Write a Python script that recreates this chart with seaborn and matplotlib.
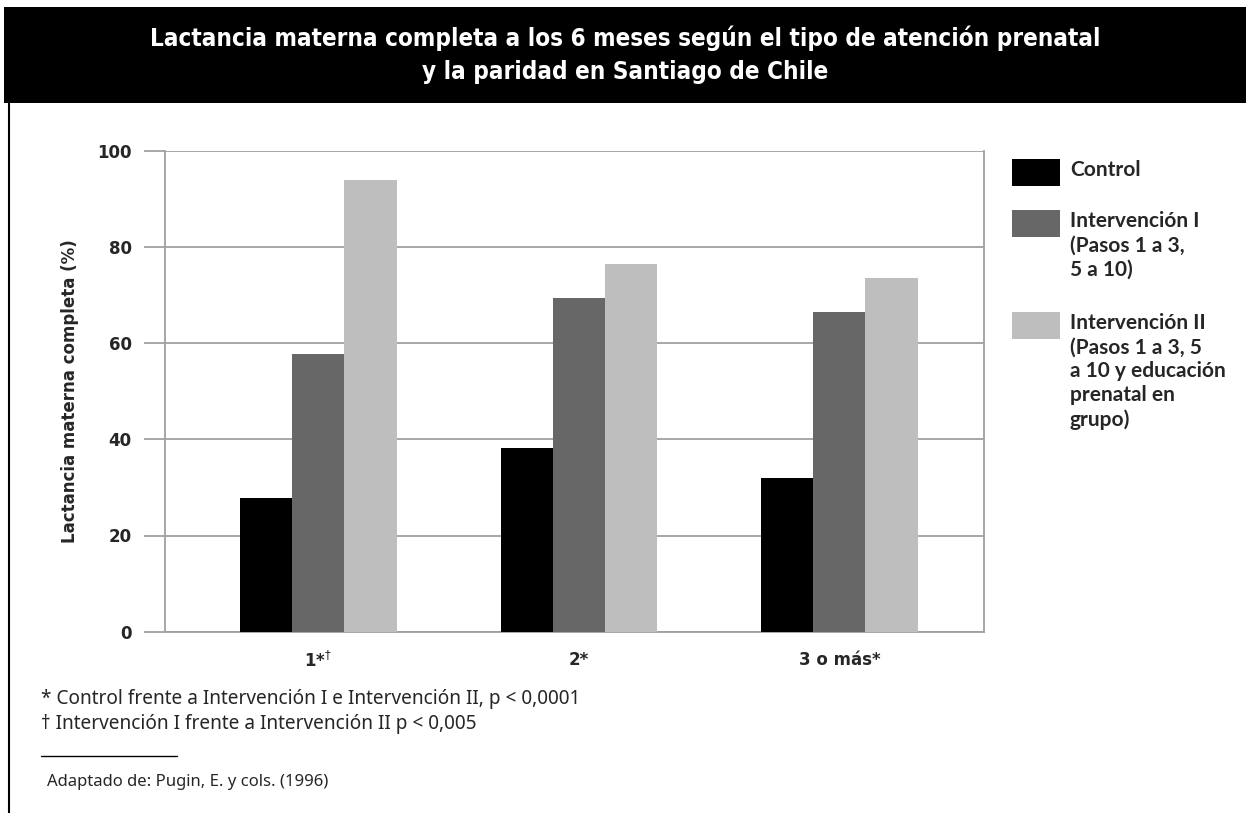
import matplotlib
matplotlib.use("Agg")
import matplotlib.pyplot as plt
from matplotlib.patches import Rectangle
from matplotlib.lines import Line2D
import seaborn as sns
import pandas as pd

# Data: full breastfeeding at 6 months (%) by parity and type of prenatal care
paridad = ["1", "2", "3 o más"]
etiquetas_x = ["1*$^{\\dagger}$", "2*", "3 o más*"]
grupos = ["Control",
          "Intervención I\n(Pasos 1 a 3,\n5 a 10)",
          "Intervención II\n(Pasos 1 a 3, 5\na 10 y educación\nprenatal en\ngrupo)"]
control = [27.9, 38.1, 32.0]
intervencion_1 = [57.7, 69.4, 66.5]
intervencion_2 = [93.9, 76.4, 73.5]
colores = ["#000000", "#676767", "#BEBEBE"]
yticks = [0, 20, 40, 60, 80, 100]

titulo = ("Lactancia materna completa a los 6 meses según el tipo de atención prenatal\n"
          "y la paridad en Santiago de Chile")
nota_1 = "* Control frente a Intervención I e Intervención II, p < 0,0001"
nota_2 = "† Intervención I frente a Intervención II p < 0,005"
fuente = "Adaptado de: Pugin, E. y cols. (1996)"

df = pd.DataFrame({
    "paridad": paridad * 3,
    "grupo": [grupos[0]] * 3 + [grupos[1]] * 3 + [grupos[2]] * 3,
    "valor": control + intervencion_1 + intervencion_2,
})

sns.set_theme(style="white")
plt.rcParams["font.family"] = ["DejaVu Sans"]

W, H = 1246, 813
fig = plt.figure(figsize=(W / 100, H / 100), dpi=100)

def px(x, y):
    return x / W, 1 - y / H

# Axes area
ax = fig.add_axes([165 / W, 1 - 631.7 / H, (984 - 165) / W, (631.7 - 150.7) / H])
sns.barplot(data=df, x="paridad", y="valor", hue="grupo", order=paridad,
            hue_order=grupos, palette=colores, width=0.6, saturation=1,
            ax=ax, legend=False, linewidth=0, zorder=3)

ax.set_ylim(0, 100)
ax.set_xlim(-0.589, 2.555)
ax.set_yticks(yticks)
ax.set_yticklabels([str(v) for v in yticks], fontsize=12, fontweight="bold")
ax.set_xticks(range(len(paridad)))
ax.set_xticklabels(etiquetas_x, fontsize=12, fontweight="bold")
ax.set_xlabel("")
ax.set_ylabel("Lactancia materna completa (%)", fontsize=12, fontweight="bold",
              labelpad=13)
ax.yaxis.grid(True, color="#A0A0A0", linewidth=1.3, zorder=0)
ax.set_axisbelow(True)
ax.tick_params(axis="y", length=15, width=1.3, color="#A0A0A0", pad=9, left=True)
ax.tick_params(axis="x", length=0, pad=14)
for side in ["left", "right", "bottom"]:
    ax.spines[side].set_visible(True)
    ax.spines[side].set_color("#A0A0A0")
    ax.spines[side].set_linewidth(1.3)
ax.spines["top"].set_visible(False)

# Title band
fig.patches.append(Rectangle(px(4, 103), (W - 4) / W, 96 / H, transform=fig.transFigure,
                             facecolor="black", edgecolor="none", zorder=0))
fig.text(625 / W, 1 - 55 / H, titulo, ha="center", va="center", color="white",
         fontsize=17.4, fontweight="bold", linespacing=1.45, fontstretch="condensed",
         family=["DejaVu Sans"])

# Left frame line
fig.add_artist(Line2D([9 / W, 9 / W], [0, 1 - 103 / H], transform=fig.transFigure,
                      color="black", linewidth=1.5))

# Legend
leg_tops = [159, 210, 312]
for nombre, color, top in zip(grupos, colores, leg_tops):
    fig.patches.append(Rectangle(px(1012, top + 27), 48 / W, 27 / H,
                                 transform=fig.transFigure, facecolor=color,
                                 edgecolor="none"))
    fig.text(1070 / W, 1 - (top + 1) / H, nombre, ha="left", va="top",
             fontsize=15, fontweight="bold", linespacing=1.26,
             family=["Lato", "DejaVu Sans"])

# Footnotes
nota_kw = dict(ha="left", va="center", fontstretch="condensed", family=["Noto Sans"])
fig.text(41 / W, 1 - 699 / H, nota_1, fontsize=13.7, **nota_kw)
fig.text(41 / W, 1 - 724 / H, nota_2, fontsize=13.7, **nota_kw)
fig.add_artist(Line2D([41 / W, 177 / W], [1 - 756 / H, 1 - 756 / H],
                      transform=fig.transFigure, color="black", linewidth=1))
fig.text(47 / W, 1 - 782 / H, fuente, fontsize=12, **nota_kw)

fig.savefig("out.png", dpi=100, facecolor="white")
